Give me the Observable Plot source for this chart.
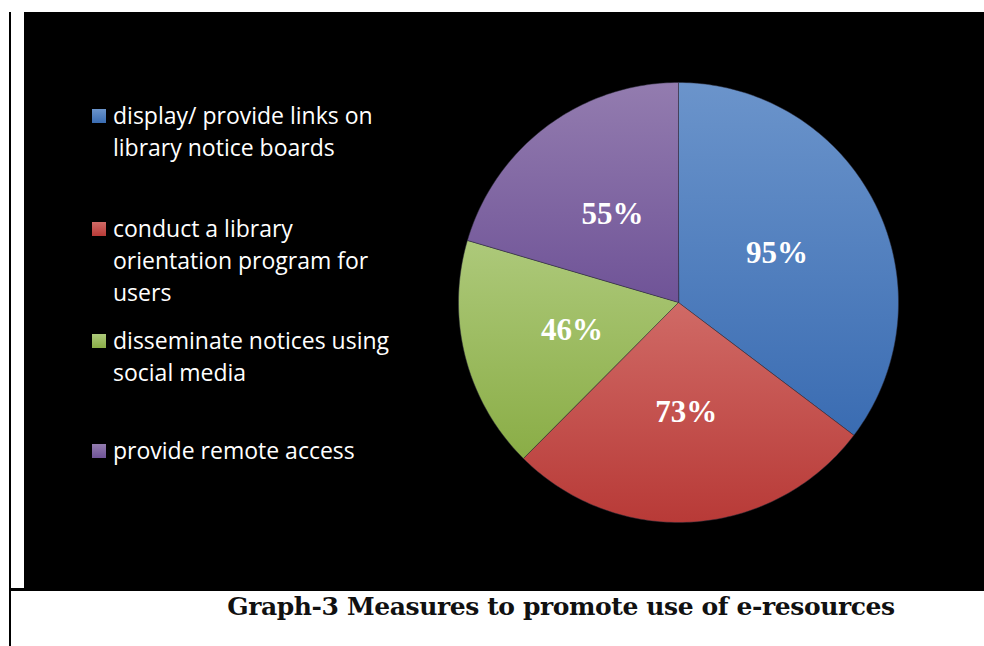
<!DOCTYPE html>
<html>
<head>
<meta charset="utf-8">
<script src="https://cdn.jsdelivr.net/npm/d3@7"></script>
<script src="https://cdn.jsdelivr.net/npm/@observablehq/plot@0.6"></script>
<style>
  html, body { margin: 0; padding: 0; background: #fff; }
  #page { position: relative; width: 984px; height: 646px; overflow: hidden; background: #fff; }
  .abs { position: absolute; }
  .leg { position: absolute; color: #fff; font-family: "Open Sans", sans-serif; font-size: 23px; white-space: nowrap; line-height: 1; }
  .sw { position: absolute; width: 14px; height: 14px; }
  #title { position: absolute; left: 0; width: 1122px; text-align: center; top: 594px; font-family: "DejaVu Serif", serif; font-weight: bold; font-size: 25px; letter-spacing: -0.4px; line-height: 1; color: #111; white-space: nowrap; }
</style>
</head>
<body>
<div id="page">
  <div class="abs" style="left:24px;top:12px;width:960px;height:579px;background:#000"></div>
  <div class="abs" style="left:9px;top:588px;width:975px;height:3px;background:#000"></div>
  <div class="abs" style="left:9px;top:12px;width:2px;height:634px;background:#000"></div>
  <div id="legend"></div>
  <div id="chart" class="abs" style="left:0;top:0"></div>
  <div id="title">Graph-3 Measures to promote use of e-resources</div>
</div>
<script>
// ---- data ----
const categories = [
  "display/ provide links on library notice boards",
  "conduct a library orientation program for users",
  "disseminate notices using social media",
  "provide remote access"
];
const values = [95, 73, 46, 55];
const valueLabels = ["95%", "73%", "46%", "55%"];
const legendLines = [
  ["display/ provide links on", "library notice boards"],
  ["conduct a library", "orientation program for", "users"],
  ["disseminate notices using", "social media"],
  ["provide remote access"]
];
const topColors = ["#6b94cb", "#d06a66", "#adc97a", "#937caf"];
const bottomColors = ["#3a6cb2", "#b83a37", "#8aad46", "#6f5397"];

// ---- pie geometry via d3.pie, drawn with Plot.geo in a polar azimuthal projection ----
const arcs = d3.pie().sort(null).value(d => d)(values);
const toLon = a => 180 - a * 180 / Math.PI; // clockwise angle from top -> longitude
const slices = arcs.map((a, i) => {
  const l0 = toLon(a.startAngle), l1 = toLon(a.endAngle);
  const ring = [[0, 90]];
  const n = Math.max(2, Math.ceil(Math.abs(l0 - l1)));
  for (let k = 0; k <= n; k++) ring.push([l0 + (l1 - l0) * k / n, 0]);
  ring.push([0, 90]);
  return {
    type: "Feature",
    properties: {i, label: valueLabels[i], mid: toLon((a.startAngle + a.endAngle) / 2)},
    geometry: {type: "Polygon", coordinates: [ring]}
  };
});

const defs = () => {
  const d = d3.create("svg:defs");
  topColors.forEach((c, i) => {
    const g = d.append("linearGradient").attr("id", "sg" + i)
      .attr("x1", 0).attr("y1", 0).attr("x2", 0).attr("y2", 1);
    g.append("stop").attr("offset", "0%").attr("stop-color", c);
    g.append("stop").attr("offset", "100%").attr("stop-color", bottomColors[i]);
  });
  return d.node();
};

const chart = Plot.plot({
  width: 984,
  height: 646,
  marginLeft: 458,
  marginRight: 86,
  marginTop: 82,
  marginBottom: 124,
  style: {background: "transparent"},
  projection: {
    type: "azimuthal-equidistant",
    rotate: [0, -90],
    domain: d3.geoCircle().center([0, 90]).radius(90)()
  },
  marks: [
    defs,
    ...slices.map((s, i) => Plot.geo([s], {
      fill: `url(#sg${i})`,
      stroke: "#2b2b3a",
      strokeWidth: 0.7,
      strokeOpacity: 0.7
    })),
    Plot.text(slices, {
      x: d => d.properties.mid,
      y: 45,
      text: d => d.properties.label,
      fill: "#fff",
      fontFamily: "Liberation Serif, Times New Roman, serif",
      fontWeight: "bold",
      fontSize: 31
    })
  ]
});
document.getElementById("chart").appendChild(chart);

// ---- legend ----
const legendTops = [[124, 156], [237, 269, 301], [349, 381], [459]];
const leg = document.getElementById("legend");
legendLines.forEach((lines, i) => {
  const sw = document.createElement("div");
  sw.className = "sw";
  sw.style.left = "92px";
  sw.style.top = (legendTops[i][0] - 15) + "px";
  sw.style.background = `linear-gradient(${topColors[i]}, ${bottomColors[i]})`;
  leg.appendChild(sw);
  lines.forEach((t, j) => {
    const el = document.createElement("div");
    el.className = "leg";
    el.textContent = t;
    el.style.left = "113px";
    el.style.top = (legendTops[i][j] - 20.4) + "px";
    leg.appendChild(el);
  });
});
</script>
</body>
</html>
